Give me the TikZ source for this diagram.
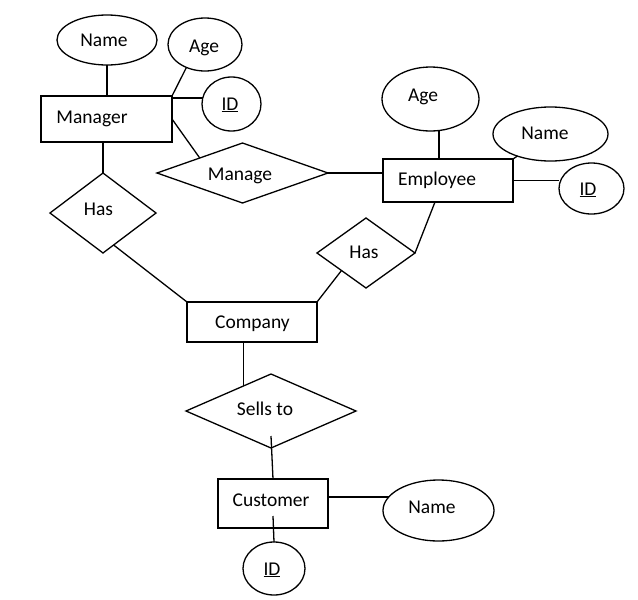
\documentclass[tikz,border=0pt]{standalone}
\usepackage{fontspec}
\setmainfont{Carlito}
\usetikzlibrary{shapes.geometric,calc}
\begin{document}
\begin{tikzpicture}[x=1pt,y=-1pt,
  every path/.style={line width=1.3pt},
  ent/.style={draw,rectangle,inner sep=0pt,outer sep=0pt},
  attr/.style={draw,ellipse,inner sep=0pt,outer sep=0pt},
  rel/.style={draw,diamond,inner sep=0pt,outer sep=0pt},
  lbl/.style={anchor=base,inner sep=0pt,font=\fontsize{19.5}{23}\selectfont}]
\useasboundingbox[fill=white] (0,0) rectangle (638,600);
% entities
\node[ent,minimum width=131pt,minimum height=46pt] (mgr) at (106.5,119) {};
\node[ent,minimum width=130pt,minimum height=43pt,line width=1.8pt] (emp) at (448,180.5) {};
\node[ent,minimum width=130pt,minimum height=40pt] (comp) at (252,322) {};
\node[ent,minimum width=110pt,minimum height=49pt] (cust) at (273,503.5) {};
% attributes
\node[attr,minimum width=100pt,minimum height=50pt] (name1) at (107,40) {};
\node[attr,minimum width=74pt,minimum height=53pt] (age1) at (205,44.5) {};
\node[attr,minimum width=59pt,minimum height=54pt] (id1) at (231.5,104) {};
\node[attr,minimum width=97pt,minimum height=64pt] (age2) at (430.5,99) {};
\node[attr,minimum width=115pt,minimum height=54pt] (name2) at (550.5,134) {};
\node[attr,minimum width=65pt,minimum height=51pt] (id2) at (591.5,188.5) {};
\node[attr,minimum width=111pt,minimum height=61pt] (name3) at (438.5,510.5) {};
\node[attr,minimum width=62pt,minimum height=53pt] (id3) at (274,568.5) {};
% relationships
\node[rel,minimum width=171pt,minimum height=60pt] (manage) at (242.5,173) {};
\node[rel,minimum width=106pt,minimum height=80pt] (hasL) at (103,213) {};
\node[rel,minimum width=98pt,minimum height=70pt] (hasR) at (366,253) {};
\node[rel,minimum width=170pt,minimum height=74pt] (sells) at (271,411) {};
% labels
\node[lbl] (tmgr) at (92,123) {Manager};
\node[lbl] (temp) at (437,185) {Employee};
\node[lbl] (tcomp) at (252.5,328) {Company};
\node[lbl] (tcust) at (271,506) {Customer};
\node[lbl] (tname1) at (104,46) {Name};
\node[lbl] (tage1) at (204,52) {Age};
\node[lbl] (tid1) at (230,110) {\underline{ID}};
\node[lbl] (tage2) at (423,101) {Age};
\node[lbl] (tname2) at (545,139) {Name};
\node[lbl] (tid2) at (588,195) {\underline{ID}};
\node[lbl] (tname3) at (432,513) {Name};
\node[lbl] (tid3) at (272,575) {\underline{ID}};
\node[lbl] (tmanage) at (240,180) {Manage};
\node[lbl] (thasL) at (98.5,215) {Has};
\node[lbl] (thasR) at (364,258) {Has};
\node[lbl] (tsells) at (265,415) {Sells to};
% connectors
\draw (name1.south) -- (name1.south |- mgr.north);
\draw (mgr.north east) -- (age1.231);
\draw (mgr.east |- id1.168) -- (id1.168);
\draw (mgr.east) -- (manage.north west);
\draw (hasL.north) -- (hasL.north |- mgr.south);
\draw ($(hasL.south)!0.2!(hasL.east)$) -- (comp.north west);
\draw (manage.east) -- (manage.east -| emp.west);
\coordinate (empAge) at ($(emp.north west)!0.43!(emp.north east)$);
\draw (empAge) -- (empAge |- age2.south);
\draw (emp.north east) -- (name2);
\draw (emp.east) -- (emp.east -| id2.west);
\draw ($(emp.south west)!0.4!(emp.south east)$) -- (hasR.east);
\draw (hasR.south west) -- (comp.north east);
\coordinate (sellsTop) at ($(sells.west)!0.68!(sells.north)$);
\draw (sellsTop |- comp.south) -- (sellsTop);
\draw ([yshift=12pt]sells.south) -- (cust.north);
\draw (cust.east |- name3.165) -- (name3.165);
\draw ([yshift=12pt]cust.south) -- (id3.north);
\end{tikzpicture}
\end{document}
